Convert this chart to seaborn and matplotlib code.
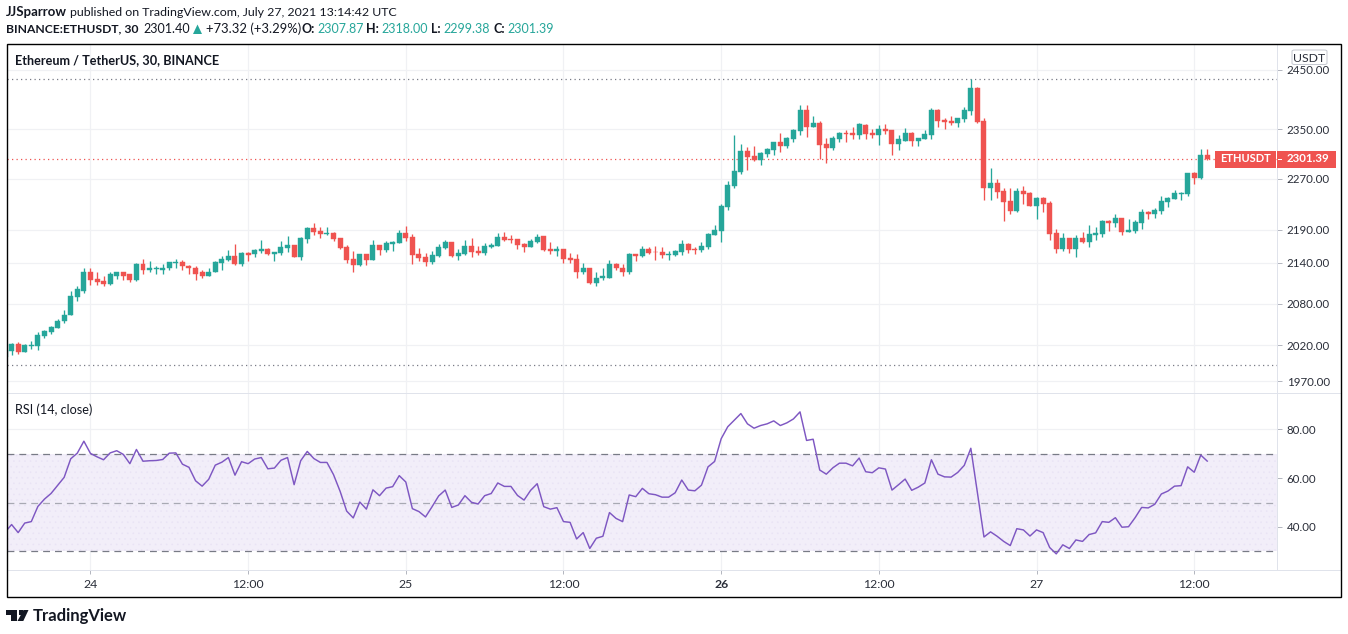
import matplotlib
matplotlib.use('Agg')
import matplotlib.pyplot as plt
from matplotlib.patches import Rectangle, Polygon, FancyBboxPatch
import pandas as pd
import seaborn as sns
import numpy as np

# candles, 30 min bars
open_prices = [
    2004,2012,2022,2010,2019,2019,2033,2039,2045,2054,
    2063,2089,2099,2126,2116,2113,2108,2121,2126,2123,
    2114,2139,2129,2131,2130,2132,2140,2142,2136,2133,
    2126,2120,2126,2140,2145,2151,2139,2155,2154,2158,
    2161,2154,2155,2163,2167,2149,2176,2193,2188,2184,
    2185,2178,2164,2146,2137,2154,2145,2167,2160,2169,
    2170,2185,2179,2154,2149,2142,2151,2163,2172,2151,
    2154,2166,2158,2155,2164,2166,2179,2176,2176,2169,
    2164,2172,2181,2161,2158,2161,2148,2146,2127,2133,
    2110,2117,2118,2139,2132,2127,2154,2151,2161,2157,
    2157,2152,2152,2157,2169,2161,2160,2164,2183,2189,
    2226,2258,2280,2315,2306,2300,2310,2316,2329,2323,
    2334,2347,2382,2354,2361,2326,2320,2334,2344,2344,
    2341,2357,2344,2341,2350,2349,2326,2331,2344,2331,
    2334,2341,2382,2366,2364,2361,2367,2381,2419,2364,
    2255,2264,2250,2235,2220,2250,2248,2227,2240,2232,
    2186,2161,2178,2161,2178,2172,2183,2184,2204,2201,
    2209,2187,2189,2201,2218,2215,2220,2234,2238,2246,
    2246,2279,2271,2307.87]
high_prices = [
    2013,2023,2024,2022,2026,2039,2042,2048,2058,2071,
    2099,2105,2132,2132,2127,2120,2127,2127,2127,2124,
    2140,2146,2143,2135,2139,2142,2146,2145,2137,2136,
    2130,2132,2143,2151,2160,2169,2157,2157,2161,2175,
    2163,2157,2173,2181,2167,2179,2194,2200,2194,2194,
    2187,2178,2167,2158,2154,2154,2175,2167,2173,2173,
    2190,2196,2184,2163,2155,2158,2169,2175,2172,2161,
    2175,2178,2166,2170,2170,2185,2187,2182,2176,2170,
    2176,2184,2181,2172,2166,2161,2155,2154,2140,2133,
    2126,2132,2145,2140,2139,2155,2154,2166,2164,2166,
    2164,2158,2160,2174,2170,2164,2172,2186,2198,2231,
    2267,2341,2326,2321,2323,2313,2320,2329,2344,2338,
    2351,2391,2391,2372,2364,2336,2339,2346,2349,2354,
    2361,2359,2350,2357,2359,2349,2341,2352,2346,2336,
    2349,2386,2384,2369,2372,2369,2387,2434,2421,2369,
    2287,2270,2255,2255,2255,2258,2249,2241,2241,2235,
    2192,2186,2178,2183,2187,2198,2195,2206,2206,2214,
    2209,2207,2206,2223,2220,2224,2243,2241,2252,2249,
    2279,2280,2318,2318]
low_prices = [
    2004,2007,2008,2010,2015,2013,2030,2036,2044,2052,
    2063,2083,2096,2107,2107,2105,2107,2116,2114,2111,
    2113,2123,2127,2123,2124,2129,2133,2130,2124,2115,
    2117,2120,2126,2130,2143,2137,2135,2143,2149,2155,
    2152,2143,2152,2157,2149,2145,2170,2182,2178,2182,
    2173,2161,2140,2127,2135,2137,2145,2152,2157,2158,
    2170,2173,2139,2143,2136,2139,2149,2161,2149,2145,
    2152,2149,2152,2152,2163,2166,2173,2170,2161,2157,
    2164,2170,2158,2154,2151,2140,2140,2118,2123,2108,
    2105,2115,2117,2129,2121,2124,2143,2149,2154,2145,
    2148,2145,2150,2152,2155,2153,2157,2161,2183,2171,
    2221,2255,2277,2284,2298,2292,2305,2308,2313,2320,
    2329,2341,2338,2354,2301,2295,2316,2329,2329,2334,
    2334,2334,2336,2324,2342,2308,2316,2331,2323,2323,
    2334,2334,2354,2350,2357,2354,2362,2374,2360,2237,
    2237,2240,2204,2215,2218,2231,2227,2207,2217,2174,
    2155,2158,2155,2149,2170,2164,2174,2180,2189,2195,
    2183,2187,2186,2192,2207,2209,2214,2226,2238,2237,
    2243,2261,2269,2299.38]
close_prices = [
    2013,2022,2010,2020,2020,2035,2041,2046,2055,2064,
    2091,2101,2126,2114,2111,2108,2123,2126,2121,2114,
    2139,2129,2132,2132,2133,2142,2142,2135,2132,2124,
    2120,2127,2142,2146,2151,2139,2155,2152,2160,2161,
    2154,2157,2164,2167,2149,2178,2193,2187,2184,2185,
    2176,2163,2145,2137,2154,2145,2167,2160,2170,2172,
    2185,2178,2152,2148,2142,2152,2164,2172,2151,2155,
    2166,2157,2155,2166,2167,2179,2175,2175,2167,2164,
    2173,2179,2160,2158,2161,2146,2145,2127,2133,2110,
    2118,2120,2139,2132,2127,2154,2151,2161,2155,2156,
    2152,2154,2158,2169,2160,2160,2166,2184,2190,2227,
    2260,2282,2315,2305,2300,2311,2318,2329,2323,2336,
    2349,2382,2354,2361,2324,2320,2336,2344,2343,2341,
    2359,2342,2341,2350,2347,2326,2334,2344,2331,2336,
    2342,2382,2364,2362,2361,2369,2382,2419,2362,2255,
    2264,2249,2234,2220,2250,2246,2227,2240,2231,2184,
    2161,2178,2161,2178,2172,2184,2186,2204,2201,2209,
    2187,2190,2203,2218,2215,2221,2235,2240,2248,2248,
    2279,2271,2308,2301.39]

rsi_values = [
    37.8,41.0,37.7,41.6,42.2,48.4,51.4,53.7,57.0,60.3,
    67.9,70.2,75.1,70.1,68.7,67.5,70.3,71.2,69.7,65.9,
    71.7,66.9,67.1,67.2,67.6,70.2,70.3,65.7,64.4,58.9,
    56.7,59.5,65.3,66.5,68.4,61.2,66.7,65.9,67.8,68.4,
    63.8,64.1,67.3,68.4,57.3,67.1,70.9,68.0,66.4,66.4,
    61.4,54.6,46.5,43.7,50.2,47.3,55.2,52.8,55.9,56.5,
    61.0,58.4,47.5,46.3,44.1,48.3,52.7,55.1,48.0,
    49.0,52.8,50.1,49.4,52.8,53.7,58.0,56.6,56.6,52.9,
    51.0,55.0,57.7,48.3,47.3,47.9,42.2,41.9,35.1,37.7,
    31.2,35.4,36.2,45.9,43.5,42.2,53.1,52.4,55.8,53.6,
    53.2,52.2,52.2,54.0,59.2,55.1,54.8,57.1,64.6,66.8,
    76.1,81.0,83.7,86.4,82.2,80.4,81.5,82.2,83.4,81.5,
    82.6,84.2,87.1,75.4,75.9,63.3,61.6,64.2,66.1,66.1,
    65.0,68.2,62.6,62.2,64.2,63.7,55.1,57.3,
    59.6,55.0,56.3,58.0,67.5,61.6,60.5,60.4,62.3,65.2,
    72.2,54.1,35.9,38.0,36.2,34.1,32.4,39.3,38.8,36.3,
    38.8,37.7,31.6,29.0,32.7,31.2,34.7,34.1,36.9,37.6,
    42.2,41.9,43.8,39.9,40.1,43.8,48.0,47.8,49.3,53.5,
    54.7,56.7,56.9,64.6,62.4,69.4,66.9]

price_ticks = [1970, 2020, 2080, 2140, 2190, 2270, 2350, 2450]
rsi_ticks = [40, 60, 80]
rsi_levels = [30, 50, 70]
time_positions = [13, 37, 61, 85, 109, 133, 157, 181]
time_labels = ['24', '12:00', '25', '12:00', '26', '12:00', '27', '12:00']
chart_high = 2433.8
chart_low = 1993
last_price = 2301.39

GREEN = '#26A69A'
RED = '#EF5350'
GRID = '#F0F1F4'
AXIS = '#E0E3EB'
TEXT = '#131722'
PURPLE = '#7E57C2'
FONT = 'Lato'

sns.set_theme(style='white')
plt.rcParams['font.family'] = FONT
plt.rcParams['hatch.linewidth'] = 0.4

W, H = 1348, 634
fig = plt.figure(figsize=(W / 100, H / 100), dpi=100, facecolor='white')


def pane(x0, y0, x1, y1):
    return fig.add_axes([x0 / W, 1 - y1 / H, (x1 - x0) / W, (y1 - y0) / H])


def fx(x):
    return x / W


def fy(y):
    return 1 - y / H


def put(x, y, s, size=9.0, color=TEXT, weight='normal', ha='left'):
    fig.text(fx(x), fy(y), s, fontsize=size, color=color, fontweight=weight, ha=ha, va='center')


def box(x0, y0, x1, y1, **kw):
    fig.add_artist(Rectangle((fx(x0), fy(y1)), (x1 - x0) / W, (y1 - y0) / H,
                             transform=fig.transFigure, **kw))


ax = pane(7, 44, 1277, 393)
ax_rsi = pane(7, 394, 1277, 570)

bars = pd.DataFrame({'open': open_prices, 'high': high_prices, 'low': low_prices,
                     'close': close_prices, 'rsi': rsi_values})
bars['bar'] = np.arange(len(bars))
bars['up'] = bars['close'] >= bars['open']
x_left, x_right = 0.3, 193.6

# price pane
ax.set_yscale('log')
for up, color in [(True, GREEN), (False, RED)]:
    part = bars[bars['up'] == up]
    ax.vlines(part['bar'], part['low'], part['high'], color=color, lw=0.95, zorder=3)
    ax.bar(part['bar'], (part['close'] - part['open']).abs(), bottom=part[['open', 'close']].min(axis=1),
           width=0.76, color=color, edgecolor=color, linewidth=0.3, zorder=4)
ax.set_xlim(x_left, x_right)
ax.set_ylim(1953.6, 2494.8)
ax.set_yticks(price_ticks)
ax.set_yticklabels([f'{t:.2f}' for t in price_ticks])
ax.minorticks_off()
ax.set_xticks(time_positions)
ax.tick_params(axis='x', length=0, labelbottom=False)
ax.tick_params(axis='y', which='both', right=True, left=False, labelright=True, labelleft=False,
               length=3.6, width=0.7, color='#B2B5BE', labelsize=8.3, labelcolor='#2A2E39', pad=3.5)
ax.grid(True, color=GRID, lw=0.9)
ax.set_axisbelow(True)
ax.axhline(chart_high, color='#787B86', lw=0.9, ls=(0, (1, 2.6)), zorder=2)
ax.axhline(chart_low, color='#787B86', lw=0.9, ls=(0, (1, 2.6)), zorder=2)
ax.axhline(last_price, color=RED, lw=0.9, ls=(0, (1, 2.6)), zorder=2)

# rsi pane
ax_rsi.axhspan(rsi_levels[0], rsi_levels[2], facecolor='#F2EEF9', edgecolor='#E9E3F5', hatch='...', lw=0, zorder=1)
sns.lineplot(data=bars, x='bar', y='rsi', color=PURPLE, lw=1.05, ax=ax_rsi, zorder=4, errorbar=None)
ax_rsi.axhline(rsi_levels[2], color='#787B86', lw=0.9, ls=(0, (5.5, 4)), zorder=3)
ax_rsi.axhline(rsi_levels[1], color='#A8A9B3', lw=0.9, ls=(0, (5.5, 4)), zorder=3)
ax_rsi.axhline(rsi_levels[0], color='#787B86', lw=0.9, ls=(0, (5.5, 4)), zorder=3)
ax_rsi.set_xlim(x_left, x_right)
ax_rsi.set_ylim(22.4, 94.4)
ax_rsi.set_xlabel('')
ax_rsi.set_ylabel('')
ax_rsi.set_yticks(rsi_ticks)
ax_rsi.set_yticklabels([f'{t:.2f}' for t in rsi_ticks])
ax_rsi.set_xticks(time_positions)
ax_rsi.set_xticklabels(time_labels)
ax_rsi.tick_params(axis='y', right=True, left=False, labelright=True, labelleft=False,
                   length=3.6, width=0.7, color='#B2B5BE', labelsize=8.3, labelcolor='#2A2E39', pad=3.5)
ax_rsi.tick_params(axis='x', bottom=True, length=2.6, width=0.7, color='#B2B5BE', labelsize=8.8,
                   labelcolor='#2A2E39', pad=4)
ax_rsi.get_xticklabels()[4].set_fontweight('bold')
ax_rsi.grid(True, color=GRID, lw=0.9)
ax_rsi.set_axisbelow(True)

for a in (ax, ax_rsi):
    a.set_facecolor('white')
    for s in a.spines.values():
        s.set_visible(False)

# pane separators and outer frame
box(7, 393, 1341, 394, facecolor=AXIS, lw=0)
box(7, 569.5, 1341, 570.5, facecolor=AXIS, lw=0)
box(1276.8, 44, 1277.8, 570, facecolor=AXIS, lw=0)
box(6.5, 43.5, 1341, 597, facecolor='none', edgecolor='black', lw=1.0)

# last price tags
box(1215, 151, 1276, 167.5, facecolor=RED, lw=0)
box(1277, 151, 1336, 167.5, facecolor=RED, lw=0)
box(1278, 158.8, 1282, 159.8, facecolor='white', lw=0)
put(1245.5, 159, 'ETHUSDT', size=8.0, color='white', ha='center', weight='bold')
put(1308, 159, '2301.39', size=8.3, color='white', ha='center', weight='bold')

# currency badge, sits over the top tick label
fig.add_artist(FancyBboxPatch((fx(1292), fy(64.5)), 35 / W, 14.5 / H, boxstyle='round,pad=0,rounding_size=0.002',
                              transform=fig.transFigure, facecolor='white', edgecolor='#C4C7CF', lw=0.7))
put(1309.5, 58.5, 'USDT', size=8.8, color='#2A2E39', ha='center')

# header lines
put(6, 12, 'JJSparrow', size=9.5, weight='bold')
put(70, 12, 'published on TradingView.com, July 27, 2021 13:14:42 UTC', size=8.95)
put(6, 29, 'BINANCE:ETHUSDT, 30', size=8.7, weight='bold')
put(143, 29, '2301.40', size=9.0)
fig.add_artist(Polygon([(fx(193), fy(34)), (fx(202), fy(34)), (fx(197.5), fy(24.5))], closed=True,
                       transform=fig.transFigure, facecolor=GREEN, lw=0))
put(206, 29, '+73.32 (+3.29%)', size=9.4)
for x_lab, lab, x_val, val in [(302, 'O:', 317, '2307.87'), (366, 'H:', 381, '2318.00'),
                               (431, 'L:', 443, '2299.38'), (493, 'C:', 507, '2301.39')]:
    put(x_lab, 29, lab, size=9.0, weight='bold')
    put(x_val, 29, val, size=9.0, color=GREEN)

put(15, 60.5, 'Ethereum / TetherUS, 30, BINANCE', size=9.1, weight='bold')
put(15, 410, 'RSI (14, close)', size=9.1)

# logo
fig.add_artist(Polygon([(fx(x), fy(y)) for x, y in [(6, 610), (16.7, 610), (16.7, 621), (11, 621), (11, 615), (6, 615)]],
                       closed=True, transform=fig.transFigure, facecolor='#131722', lw=0))
fig.add_artist(Polygon([(fx(x), fy(y)) for x, y in [(23.5, 610), (28.5, 610), (23.3, 621), (17.5, 621)]],
                       closed=True, transform=fig.transFigure, facecolor='#131722', lw=0))
fig.add_artist(Rectangle((fx(18.7), fy(614.8)), 4 / W, 4.5 / H, transform=fig.transFigure, facecolor='#131722', lw=0))
put(33, 615.5, 'TradingView', size=12, weight='bold')

fig.savefig('out.png', dpi=100)
